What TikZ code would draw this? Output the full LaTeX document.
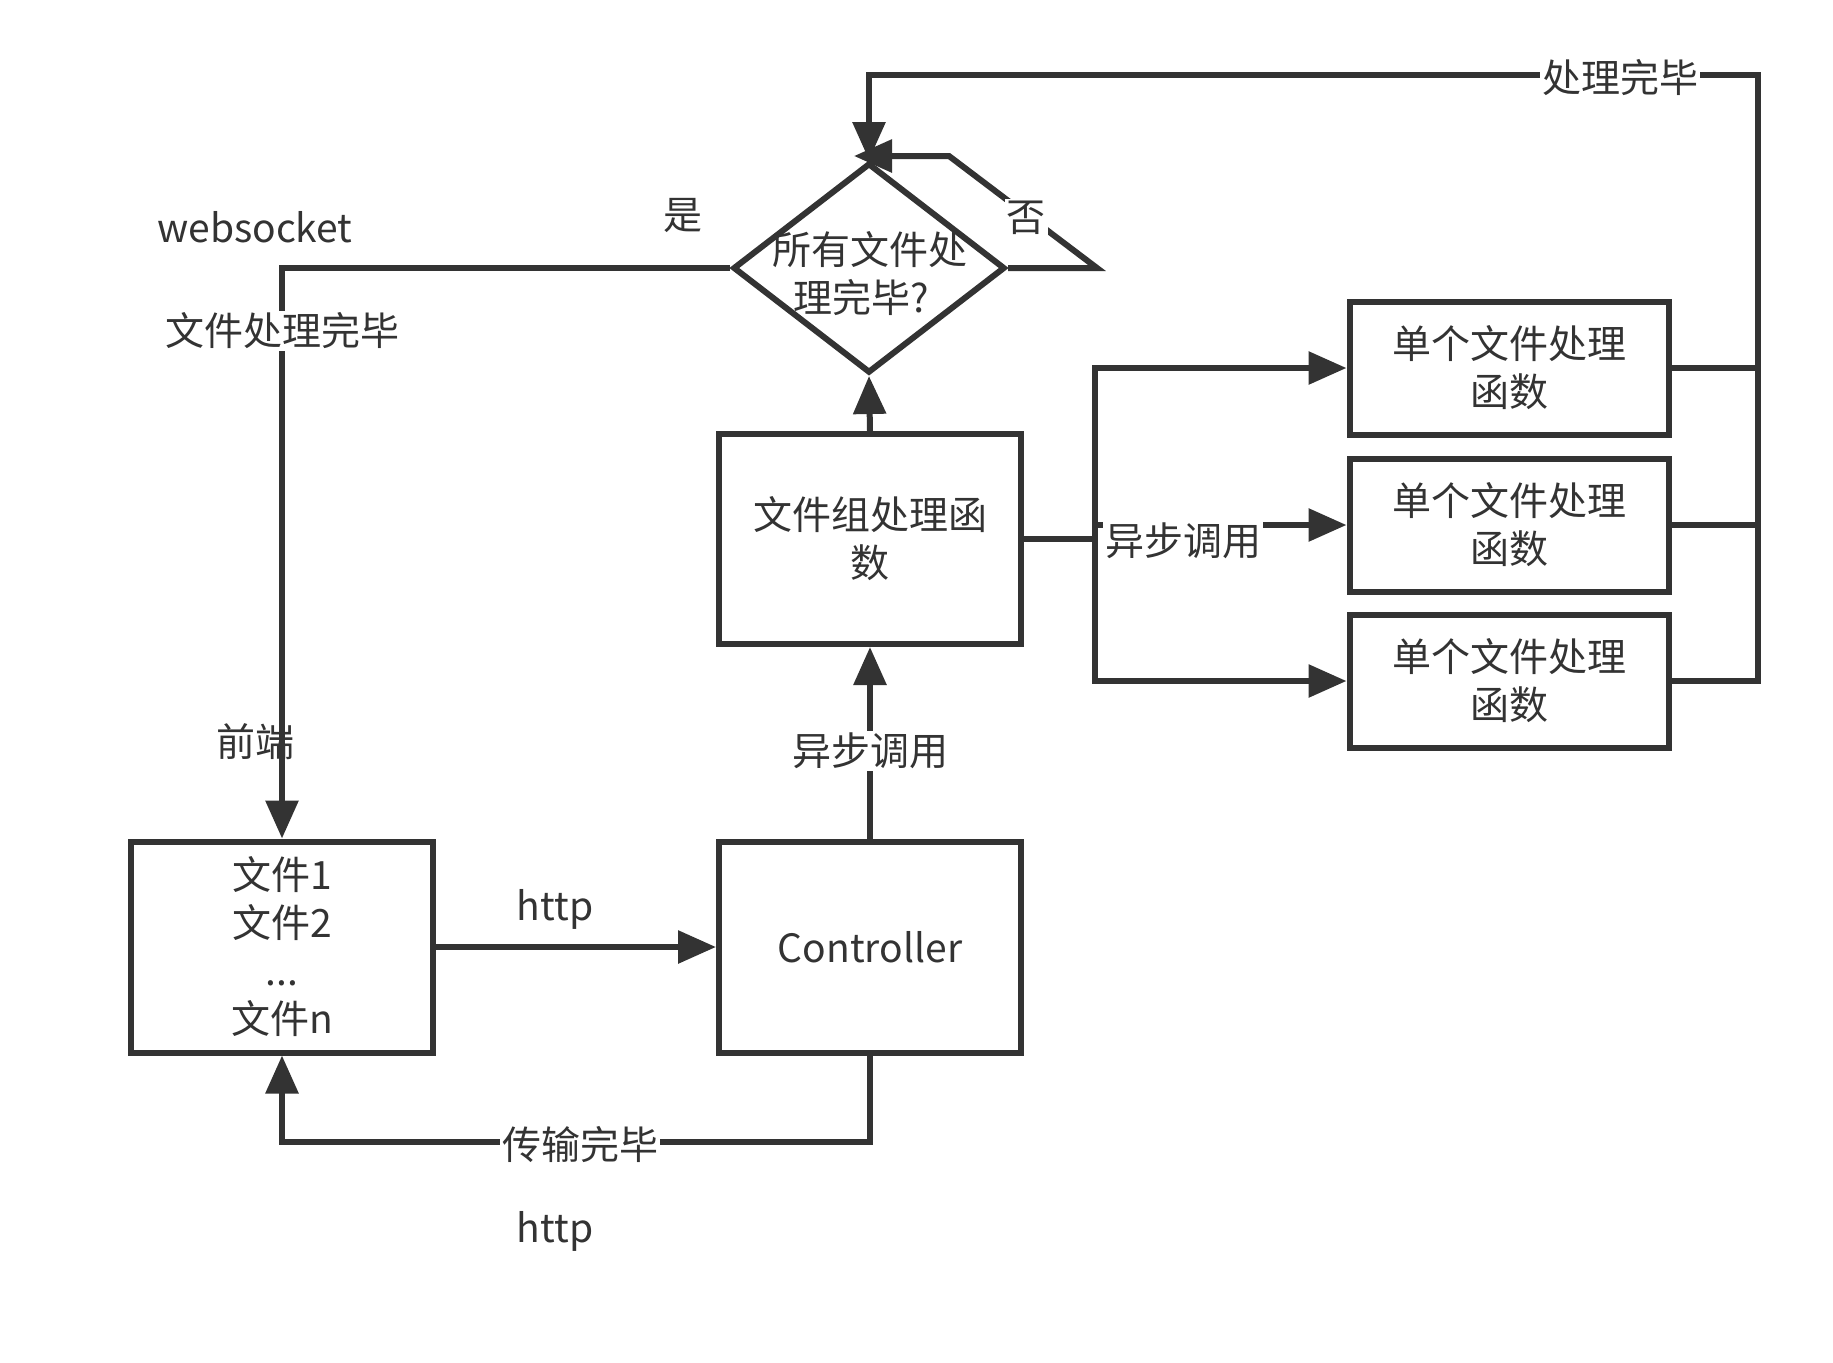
\documentclass[tikz,border=0pt]{standalone}
\usepackage{fontspec}
\setmainfont{Noto Sans CJK SC}
\usetikzlibrary{arrows.meta,shapes.geometric}
\definecolor{ink}{HTML}{333333}
\begin{document}
\begin{tikzpicture}[x=0.5pt,y=-0.5pt,
  every node/.style={text=ink, font=\fontsize{19.5}{24}\selectfont},
  box/.style={draw=ink, line width=3pt, align=center, inner sep=0pt},
  conn/.style={draw=ink, line width=3pt},
  arr/.style={conn, -{Triangle[length=19pt,width=16pt]}},
  lbl/.style={fill=white, inner sep=1pt},
  txt/.style={inner sep=0pt, align=center}]
\useasboundingbox (0,0) rectangle (1833,1362);
\fill[white] (0,0) rectangle (1833,1362);

% boxes
\node[box, minimum width=151pt, minimum height=105.5pt] (files) at (282,947) {文件1\\文件2\\...\\文件n};
\node[box, minimum width=151pt, minimum height=105.5pt] (ctrl) at (870,947) {Controller};
\node[box, minimum width=151pt, minimum height=105pt] (group) at (870,539) {文件组处理函\\数};
\node[box, minimum width=159.5pt, minimum height=66.5pt] (s1) at (1509,368) {单个文件处理\\函数};
\node[box, minimum width=159.5pt, minimum height=66.5pt] (s2) at (1509,525) {单个文件处理\\函数};
\node[box, minimum width=159.5pt, minimum height=66.5pt] (s3) at (1509,681) {单个文件处理\\函数};
\node[draw=ink, line width=3pt, diamond, minimum width=136pt, minimum height=105pt, inner sep=0pt] (dia) at (869,268) {};
\node[txt] (diatext) at (870,274) {所有文件处\\理完毕?\rule{9pt}{0pt}};

% helper coordinates
\coordinate (fork) at (1095,539);
\coordinate (col) at (1758,75);
\coordinate (bot) at (870,1142);
\coordinate (nob) at (1097,268);
\coordinate (noc) at (949,156);
\coordinate (notip) at (854,156);

% connectors
\draw[arr] (files.east) -- (ctrl.west);
\draw[arr] (ctrl.south) -- (bot) -| (files.south);
\draw[arr] (ctrl.north) -- (group.south);
\draw[arr] (group.north) -- (dia.south);
\draw[conn] (group.east) -- (fork);
\draw[arr] (fork) |- (s1.west);
\draw[arr] (fork) |- (s3.west);
\draw[arr] (fork |- s2.west) -- (s2.west);
\draw[conn] (s1.east) -- (s1.east -| col);
\draw[conn] (s2.east) -- (s2.east -| col);
\draw[arr] (s3.east) -| (col) -| (dia.north);
\draw[arr] (dia.east) -- (nob) -- (noc) -- (notip);
\draw[arr] (dia.west) -| (files.north);

% labels
\node[txt] (lhttp1) at (555,909) {http};
\node[txt] (lhttp2) at (555,1231) {http};
\node[lbl] (lcomp) at (580,1145) {传输完毕};
\node[lbl] (lasync1) at (870,751) {异步调用};
\node[lbl] (lasync2) at (1183,541) {异步调用};
\node[lbl] (ldone) at (1620,78) {处理完毕};
\node[lbl] (lno) at (1026,218) {否};
\node[txt] (lyes) at (683,215) {是};
\node[txt] (lws) at (255,227) {websocket};
\node[lbl] (lfdone) at (282,331) {文件处理完毕};
\node[txt] (lfront) at (255,742) {前端};
\end{tikzpicture}
\end{document}
